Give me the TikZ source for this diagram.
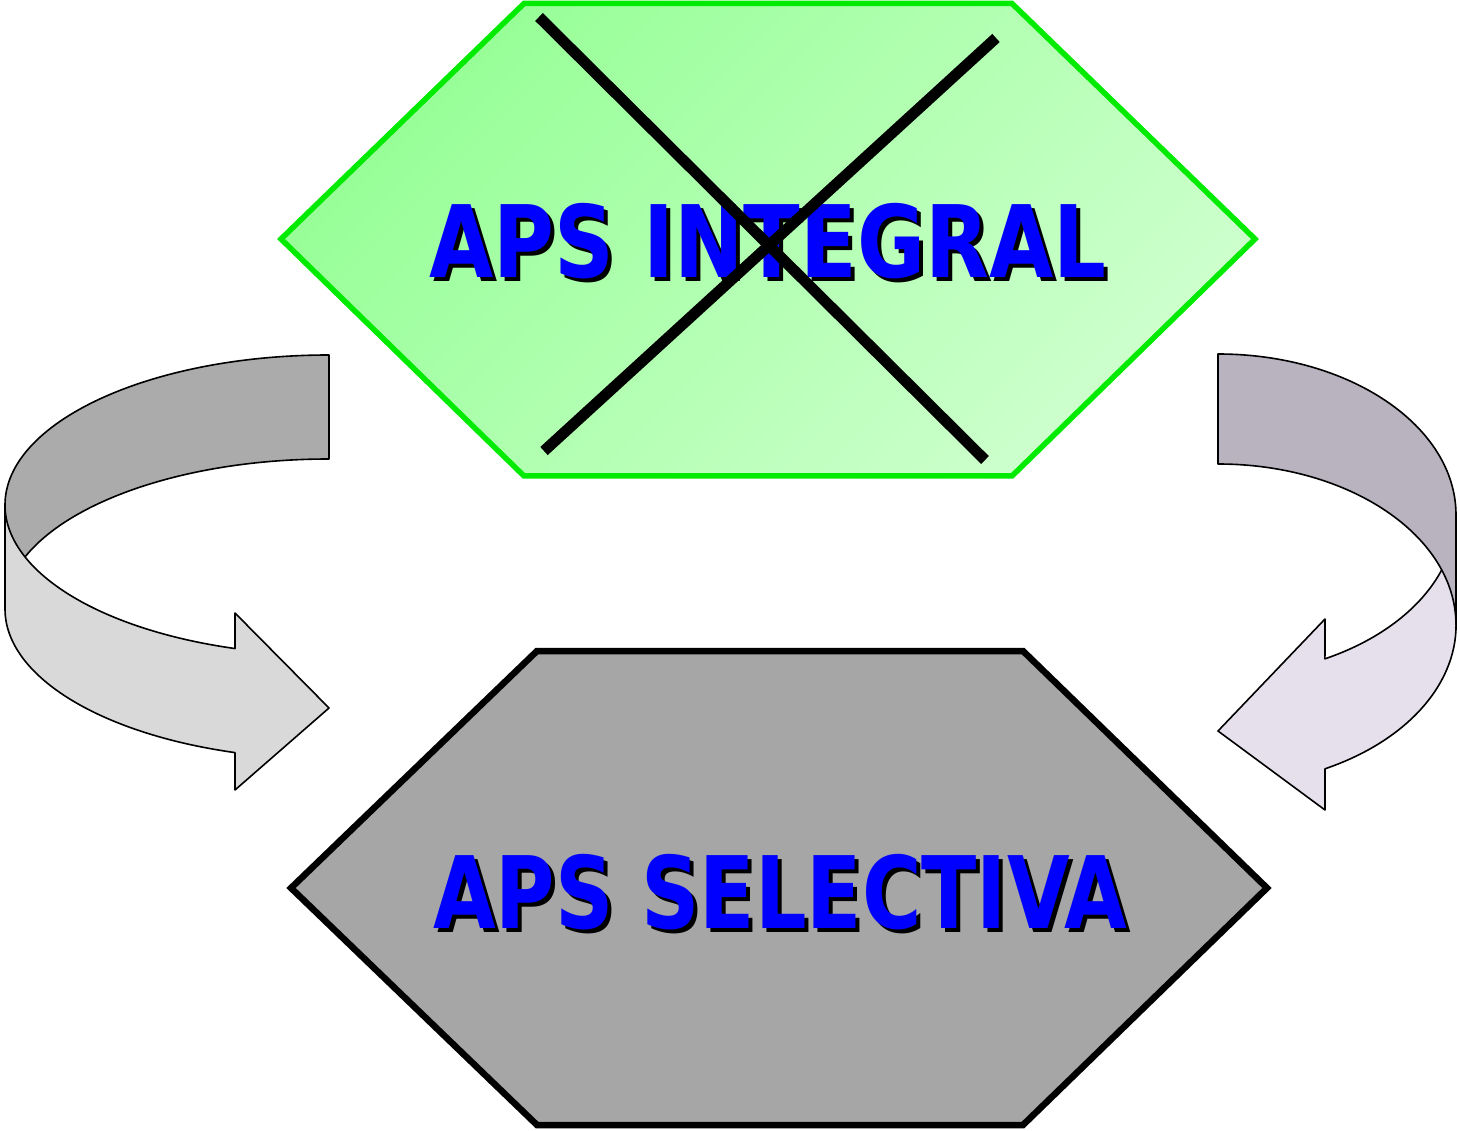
\documentclass[tikz,border=0pt]{standalone}
\usepackage{fontspec}
\newfontfamily\apsfont{DejaVu Sans}
\definecolor{hexgreen}{RGB}{0,235,0}
\definecolor{gA}{RGB}{150,255,150}
\definecolor{gB}{RGB}{206,255,206}
\definecolor{hexgray}{RGB}{166,166,166}
\definecolor{ldark}{RGB}{171,171,171}
\definecolor{llight}{RGB}{217,217,217}
\definecolor{rdark}{RGB}{184,179,191}
\definecolor{rlight}{RGB}{230,224,236}
\definecolor{txtblue}{RGB}{0,0,255}
\begin{document}
\begin{tikzpicture}[x=1pt,y=1pt,
  txt/.style={anchor=base,inner sep=0pt,xscale=0.83,
    font=\apsfont\bfseries\fontsize{100}{100}\selectfont},
  narrowtxt/.style={txt,xscale=0.976},
  ribbon/.style={draw=black,line width=1.6pt,line join=round},
  crossline/.style={draw=black,line width=11pt,line cap=butt}]
\useasboundingbox (0,0) rectangle (1460,-1131);
% top hexagon
\path[top color=gA,bottom color=gB,shading angle=45]
  (281,-239) -- (524,-3.5) -- (1012,-3.5) -- (1255,-239) -- (1012,-476) -- (524,-476) -- cycle;
\draw[hexgreen,line width=5.5pt,line join=miter]
  (281,-239) -- (524,-3.5) -- (1012,-3.5) -- (1255,-239) -- (1012,-476) -- (524,-476) -- cycle;
% bottom hexagon
\draw[fill=hexgray,draw=black,line width=6.5pt,line join=miter]
  (291,-888) -- (537,-651) -- (1023,-651) -- (1267,-888) -- (1023,-1125) -- (537,-1125) -- cycle;
% left ribbon arrow
\path[ribbon,fill=ldark] (329,-355)
  arc[start angle=90,end angle=180,x radius=324,y radius=150]
  -- (5,-609)
  arc[start angle=180,end angle=90,x radius=324,y radius=150] -- cycle;
\path[ribbon,fill=llight] (5,-505)
  arc[start angle=180,end angle=253.13,x radius=324,y radius=150]
  -- (235,-613) -- (329,-708) -- (235,-790) -- (235,-752.6)
  arc[start angle=253.13,end angle=180,x radius=324,y radius=150] -- cycle;
% right ribbon arrow
\path[ribbon,fill=rlight] (1456,-515)
  arc[start angle=0,end angle=-63.3,x radius=238,y radius=161]
  -- (1325,-619) -- (1218,-731) -- (1325,-810) -- (1325,-768.8)
  arc[start angle=-63.3,end angle=0,x radius=238,y radius=161] -- cycle;
\path[ribbon,fill=rdark] (1218,-354)
  arc[start angle=90,end angle=0,x radius=238,y radius=161]
  -- (1456,-625)
  arc[start angle=0,end angle=90,x radius=238,y radius=161] -- cycle;
% texts
\node[txt,text=black] (integralshadow) at (772,-282) {APS INTEGRAL};
\node[txt,text=txtblue] (integral) at (768,-278) {APS INTEGRAL};
\node[narrowtxt,text=black] (selectivashadow) at (784,-932) {APS SELECTIVA};
\node[narrowtxt,text=txtblue] (selectiva) at (780,-928) {APS SELECTIVA};
% cross
\draw[crossline] (539,-17) -- (985,-460);
\draw[crossline] (996,-38) -- (544,-451);
\end{tikzpicture}
\end{document}
